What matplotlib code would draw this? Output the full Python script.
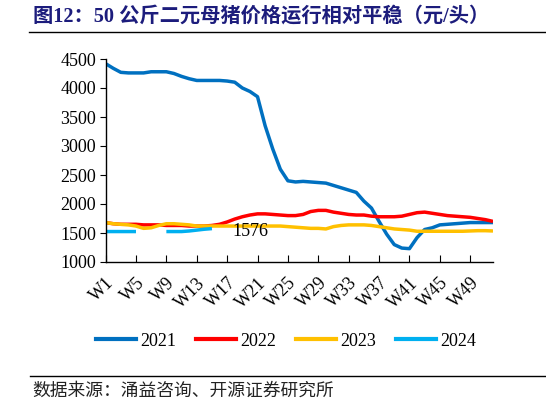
import numpy as np
import matplotlib.pyplot as plt
from matplotlib.lines import Line2D

weeks = np.arange(1, 53)
tick_weeks = list(range(1, 53, 4))
tick_labels = [f"W{w}" for w in tick_weeks]

# 50公斤二元母猪价格 (元/头)
p2021 = [4420, 4340, 4270, 4260, 4260, 4260, 4280, 4280, 4280, 4250,
         4200, 4160, 4130, 4130, 4130, 4130, 4120, 4100, 4000, 3940,
         3850, 3350, 2950, 2600, 2400, 2380, 2390, 2380, 2370, 2360,
         2320, 2280, 2240, 2200, 2050, 1930, 1700, 1480, 1300, 1240,
         1230, 1420, 1560, 1590, 1640, 1650, 1660, 1670, 1680, 1680,
         1680, 1680]
p2022 = [1680, 1660, 1650, 1650, 1650, 1640, 1640, 1640, 1630, 1630,
         1630, 1620, 1620, 1620, 1630, 1650, 1690, 1740, 1780, 1810,
         1830, 1830, 1820, 1810, 1800, 1800, 1820, 1870, 1890, 1890,
         1860, 1840, 1820, 1810, 1810, 1790, 1780, 1780, 1780, 1790,
         1820, 1850, 1860, 1840, 1820, 1800, 1790, 1780, 1770, 1750,
         1730, 1700]
p2023 = [1680, 1660, 1650, 1640, 1620, 1580, 1590, 1630, 1660, 1660,
         1650, 1640, 1620, 1620, 1620, 1620, 1620, 1620, 1620, 1620,
         1620, 1620, 1620, 1620, 1610, 1600, 1590, 1580, 1580, 1570,
         1610, 1630, 1640, 1640, 1640, 1630, 1610, 1590, 1570, 1560,
         1550, 1530, 1530, 1530, 1530, 1530, 1530, 1530, 1535, 1540,
         1540, 1535]
p2024 = [1525, 1525, 1525, 1525, 1525, np.nan, np.nan, np.nan, 1525, 1525,
         1525, 1535, 1550, 1565, 1576]

series = [("2021", p2021, "#0070C0"),
          ("2022", p2022, "#FF0000"),
          ("2023", p2023, "#FFC000"),
          ("2024", p2024, "#00B0F0")]

plt.rcParams['font.family'] = ['Liberation Serif', 'Noto Sans CJK SC']

fig = plt.figure(figsize=(5.46, 4.05), dpi=100)
ax = fig.add_axes([105.6 / 546, 1 - 262 / 405, (493 - 105.6) / 546, (262 - 59) / 405])

for name, vals, col in series:
    ax.plot(weeks[:len(vals)], vals, color=col, lw=2.5, label=name,
            solid_capstyle='butt')

last = p2024[-1]
ax.annotate(f"{last}", xy=(len(p2024), last), xytext=(15, -2),
            textcoords='offset points', va='center', ha='left', fontsize=13)

ax.set_xlim(1, 52)
ax.set_ylim(1000, 4500)
ax.set_yticks(range(1000, 4501, 500))
ax.set_xticks(tick_weeks)
ax.set_xticklabels(tick_labels, rotation=45, ha='right', va='top',
                   rotation_mode='anchor')
ax.tick_params(axis='x', direction='in', length=5, labelsize=13, pad=9)
ax.tick_params(axis='y', direction='out', length=4, labelsize=13, pad=3)
for s in ['top', 'right']:
    ax.spines[s].set_visible(False)
for s in ['left', 'bottom']:
    ax.spines[s].set_linewidth(1.0)

handles = [Line2D([], [], color=c, lw=3) for _, _, c in series]
fig.legend(handles, [n for n, _, _ in series], loc='center',
           bbox_to_anchor=(0.524, 1 - 341 / 405), ncol=4, frameon=False,
           fontsize=13, handlelength=2.2, handletextpad=0.25, columnspacing=1.1)

fig.text(33 / 546, 1 - 17 / 405, "图12：50 公斤二元母猪价格运行相对平稳（元/头）",
         fontsize=14.6, fontweight='bold', color='#1C1C7C', va='center', ha='left')
fig.add_artist(Line2D([29 / 546, 1], [1 - 31.7 / 405] * 2, color='black', lw=1))
fig.add_artist(Line2D([30 / 546, 1], [1 - 375.7 / 405] * 2, color='black', lw=1))
fig.text(32 / 546, 1 - 391 / 405, "数据来源：涌益咨询、开源证券研究所",
         fontsize=12.8, color='#222222', va='center', ha='left')

fig.savefig("out.png", dpi=100)
